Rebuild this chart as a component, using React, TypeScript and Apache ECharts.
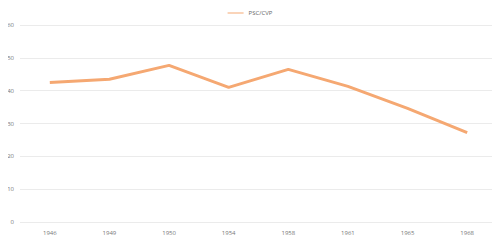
import React, { useEffect, useRef } from "react";
import * as echarts from "echarts";

const years = ["1946", "1949", "1950", "1954", "1958", "1961", "1965", "1968"];
const pscCvp = [42.5, 43.5, 47.7, 41.0, 46.5, 41.3, 34.6, 27.2];
const seriesName = "PSC/CVP";

export default function App() {
  const ref = useRef<HTMLDivElement>(null);
  useEffect(() => {
    const chart = echarts.init(ref.current!, null, { renderer: "svg" });
    chart.setOption({
      animation: false,
      legend: {
        top: 5,
        left: "center",
        itemWidth: 16,
        itemHeight: 8,
        itemGap: 2,
        icon: "path://M0,3.5L16,3.5L16,4.5L0,4.5Z",
        textStyle: { fontSize: 6, color: "#666", fontFamily: "Open Sans" },
        data: [seriesName],
      },
      grid: { left: 20, right: 3, top: 25, bottom: 21 },
      xAxis: {
        type: "category",
        data: years,
        boundaryGap: true,
        axisLine: { show: false },
        axisTick: { show: false },
        axisLabel: { fontSize: 6, color: "#777", margin: 8, fontFamily: "Open Sans" },
        splitLine: { show: false },
      },
      yAxis: {
        type: "value",
        min: 0,
        max: 60,
        interval: 10,
        axisLine: { show: false },
        axisTick: { show: false },
        axisLabel: { fontSize: 6, color: "#777", margin: 6, fontFamily: "Open Sans" },
        splitLine: { lineStyle: { color: "#ebebeb", width: 1 } },
      },
      series: [
        {
          name: seriesName,
          type: "line",
          data: pscCvp,
          symbol: "none",
          lineStyle: { color: "#f5a872", width: 3 },
          itemStyle: { color: "#f5a872" },
        },
      ],
    });
    return () => chart.dispose();
  }, []);
  return <div ref={ref} style={{ width: 500, height: 243, margin: -8 }} />;
}
